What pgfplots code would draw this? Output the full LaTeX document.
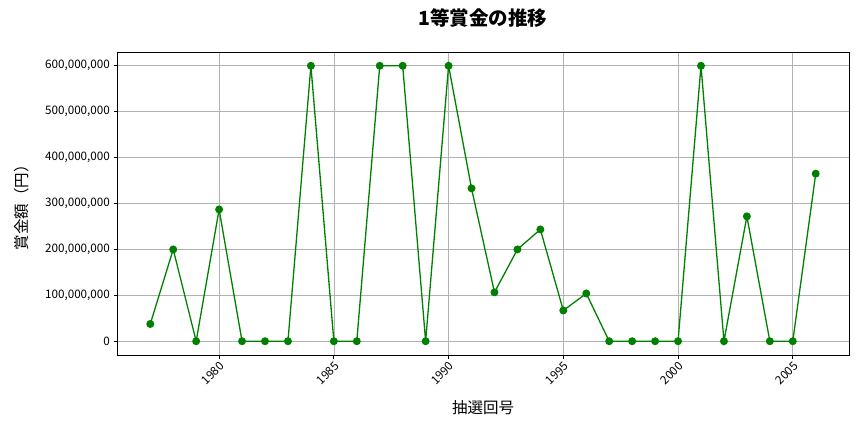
\documentclass[border=0pt]{standalone}
\usepackage{pgfplots}
\pgfplotsset{compat=1.18}
\usepackage{fontspec}
\setmainfont{Noto Sans CJK JP}
\begin{document}
\begin{tikzpicture}
\begin{axis}[
    at={(0,0)}, anchor=south west,
    width=732pt, height=303pt,
    scale only axis,
    title={\bfseries 1等賞金の推移},
    title style={font=\fontsize{19.5}{22}\selectfont, at={(axis description cs:0.5,1.092)}, anchor=center},
    xlabel={抽選回号},
    ylabel={賞金額（円）},
    label style={font=\fontsize{15.5}{18}\selectfont},
    xlabel style={at={(axis description cs:0.5,-0.175)}, anchor=center},
    ylabel style={at={(axis description cs:-0.13,0.5)}, anchor=center},
    xmin=1975.55, xmax=2007.45,
    ymin=-30000000, ymax=630000000,
    xtick={1980,1985,1990,1995,2000,2005},
    xticklabel style={rotate=45, anchor=north east, font=\fontsize{11.7}{13}\selectfont, inner sep=1.5pt},
    yticklabel style={font=\fontsize{11.7}{13}\selectfont},
    ytick={0,100000000,200000000,300000000,400000000,500000000,600000000},
    yticklabels={0,{100,000,000},{200,000,000},{300,000,000},{400,000,000},{500,000,000},{600,000,000}},
    scaled y ticks=false,
    /pgf/number format/assume math mode=true,
    /pgf/number format/1000 sep={},
    xtick pos=bottom, ytick pos=left,
    grid=major,
    grid style={gray!60, line width=0.6pt},
    axis line style={line width=0.7pt},
    tick style={black, line width=0.7pt},
    tick align=outside,
    major tick length=3.5pt,
]
\addplot[color={rgb,255:red,0;green,128;blue,0}, line width=1.3pt, mark=*, mark size=3.3pt] coordinates {
(1977,37600000) (1978,200000000) (1979,0) (1980,287000000) (1981,0) (1982,0) (1983,0)
(1984,600000000) (1985,0) (1986,0) (1987,600000000) (1988,600000000) (1989,0)
(1990,600000000) (1991,333000000) (1992,106500000) (1993,200000000) (1994,243500000)
(1995,67000000) (1996,104000000) (1997,0) (1998,0) (1999,0) (2000,0)
(2001,600000000) (2002,0) (2003,272000000) (2004,0) (2005,0) (2006,365000000)
};
\end{axis}
\pgfresetboundingbox
\useasboundingbox (-117pt,-77pt) rectangle (747pt,355pt);
\end{tikzpicture}
\end{document}
